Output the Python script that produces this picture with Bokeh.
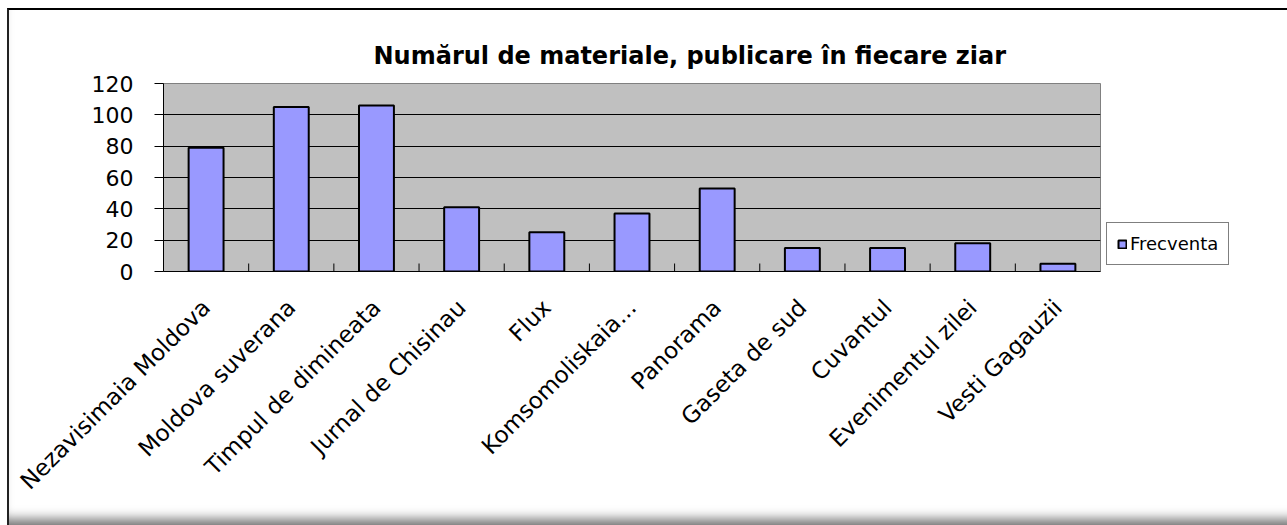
import math
from bokeh.plotting import figure
from bokeh.models import FactorRange, Range1d, FixedTicker, Legend, LegendItem, Title
from bokeh.embed import file_html
from bokeh.resources import INLINE

categories = [
    "Nezavisimaia Moldova",
    "Moldova suverana",
    "Timpul de dimineata",
    "Jurnal de Chisinau",
    "Flux",
    "Komsomoliskaia...",
    "Panorama",
    "Gaseta de sud",
    "Cuvantul",
    "Evenimentul zilei",
    "Vesti Gagauzii",
]
frecventa = [79, 105, 106, 41, 25, 37, 53, 15, 15, 18, 5]
y_ticks = [0, 20, 40, 60, 80, 100, 120]
title_text = "Numărul de materiale, publicare în fiecare ziar"
series_name = "Frecventa"

FONT = "DejaVu Sans"

p = figure(
    x_range=FactorRange(*categories, range_padding=0),
    y_range=Range1d(0, 120),
    frame_width=937, frame_height=188,
    output_backend="svg", toolbar_location=None,
    min_border_left=154, min_border_right=187,
    min_border_top=73, min_border_bottom=254,
    title=None,
)
p.styles = {"margin-left": "7px", "margin-top": "8px",
            "border-top": "2px solid #000", "border-left": "2px solid #222",
            "background": "white",
            "box-shadow": "inset 0 -14px 12px -8px rgba(0,0,0,0.55)"}

p.background_fill_color = "#C0C0C0"
p.border_fill_alpha = 0
p.outline_line_color = "#808080"
p.outline_line_width = 1

bars = p.vbar(x=categories, top=frecventa, width=0.41, bottom=0,
              fill_color="#9999FF", line_color="black", line_width=2)

# tick marks on the category boundaries
p.ray(x=list(range(1, len(categories))), y=[0] * (len(categories) - 1),
      length=8, length_units="screen", angle=90, angle_units="deg",
      line_color="black", line_width=1)

# grid
p.xgrid.grid_line_color = None
p.ygrid.grid_line_color = "black"
p.ygrid.grid_line_width = 1
p.yaxis.ticker = FixedTicker(ticks=y_ticks)

# y axis
p.yaxis.axis_line_color = "black"
p.yaxis.major_tick_line_color = "black"
p.yaxis.major_tick_out = 9
p.yaxis.major_tick_in = 0
p.yaxis.minor_tick_line_color = None
p.yaxis.major_label_text_font = FONT
p.yaxis.major_label_text_font_size = "22px"
p.yaxis.major_label_text_color = "black"
p.yaxis.major_label_standoff = 21

# x axis
p.xaxis.axis_line_color = "black"
p.xaxis.major_tick_line_color = None
p.xaxis.major_label_orientation = math.pi / 4
p.xaxis.major_label_text_font = FONT
p.xaxis.major_label_text_font_size = "23px"
p.xaxis.major_label_text_color = "black"
p.xaxis.major_label_standoff = 26

# title
p.add_layout(Title(text=title_text, align="left", offset=210,
                   text_font=FONT, text_font_size="24px", text_font_style="bold",
                   text_color="black", standoff=28), "above")

legend = Legend(items=[LegendItem(label=series_name, renderers=[bars])],
                location="bottom_left")
legend.border_line_color = "black"
legend.border_line_width = 1
legend.background_fill_color = "white"
legend.background_fill_alpha = 1
legend.label_text_font = FONT
legend.label_text_font_size = "18px"
legend.label_text_color = "black"
legend.glyph_width = 10
legend.glyph_height = 10
legend.label_standoff = 3
legend.padding = 10
legend.margin = 6
p.add_layout(legend, "right")

open("out.html", "w").write(file_html(p, INLINE))
